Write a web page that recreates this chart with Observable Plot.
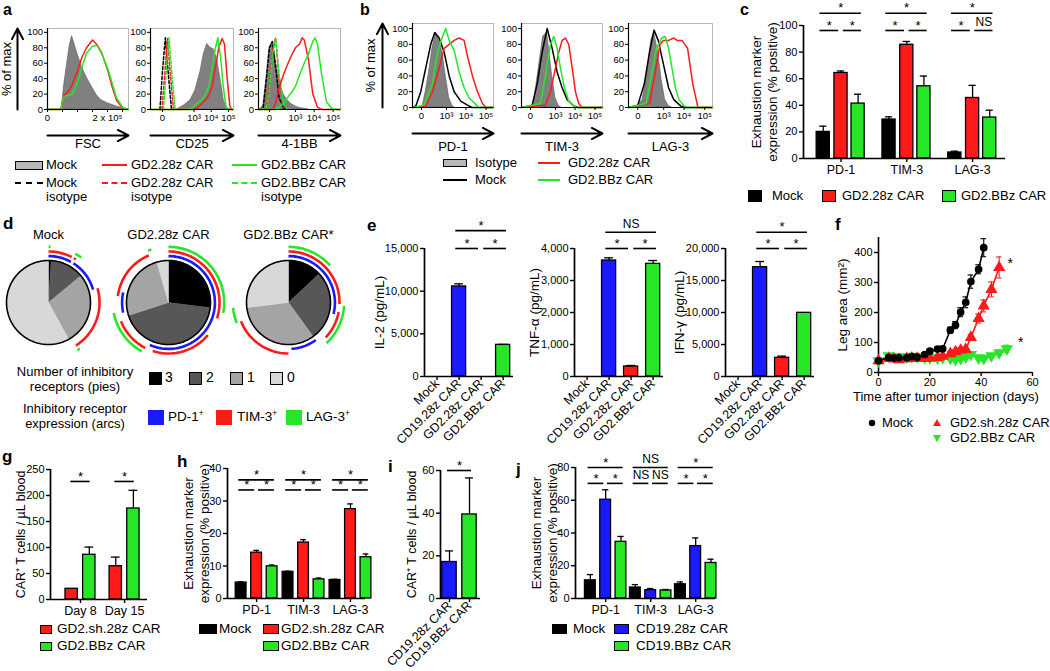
<!DOCTYPE html>
<html><head><meta charset="utf-8">
<script src="https://cdn.jsdelivr.net/npm/d3@7"></script>
<script src="https://cdn.jsdelivr.net/npm/@observablehq/plot@0.6"></script>
<style>
html,body{margin:0;padding:0;background:#fff;}
#fig{position:relative;width:1050px;height:671px;overflow:hidden;font-family:'Liberation Sans',Arial,Helvetica,sans-serif;color:#000;}
#fig svg{overflow:visible;}
.t{position:absolute;white-space:nowrap;}
.t sup{font-size:0.62em;line-height:0;vertical-align:0.55em;}
</style></head><body><div id="fig"></div>
<script>
const RED = "#ff1a1a", GREEN = "#27e627", BLUE = "#1a1aff", HGRAY = "#808080";
const FONT = "'Liberation Sans', Arial, Helvetica, sans-serif";

// ---------------- panel a : flow histograms [value, % of max]
const histYTicks = [0, 20, 40, 60, 80, 100];
const fscTicks = [0, 200000];
const fscTickLabels = ["0", "2 x 10⁵"];
const fscMinor = [50000, 100000, 150000, 250000];
const logTicks = [0, 1000, 10000, 100000];
const logTickLabels = ["0", "10³", "10⁴", "10⁵"];

const fscMock = [[0,0],[40000,0],[48000,2],[55000,30],[65000,58],[75000,85],[82000,95],[90000,85],[100000,72],[115000,55],[130000,42],[150000,28],[165000,18],[180000,12],[200000,8],[215000,6],[230000,4],[250000,2],[270000,0]];
const fsc28z = [[0,0],[45000,0],[48000,8],[55000,18],[65000,22],[75000,27],[82000,32],[90000,40],[100000,50],[115000,68],[130000,80],[150000,90],[165000,84],[180000,74],[200000,52],[215000,30],[230000,12],[250000,2],[270000,0]];
const fscBBz = [[0,0],[45000,0],[48000,8],[55000,17],[65000,18],[75000,19],[82000,20],[90000,26],[100000,35],[115000,55],[130000,73],[150000,82],[165000,83],[180000,73],[200000,54],[215000,35],[230000,15],[250000,3],[270000,0]];

const cd25Mock = [[90,0],[240,5],[610,12],[1200,25],[2400,50],[3700,72],[5800,85],[9000,80],[14000,78],[22000,65],[34000,40],[53000,12],[84000,2],[130000,0]];
const cd25_28z = [[-59,0],[970,0],[1500,2],[3700,10],[7200,18],[11300,30],[17600,55],[27000,80],[43000,92],[58000,85],[84000,40],[118000,5],[150000,0],[194000,0]];
const cd25BBz = [[-59,0],[400,0],[800,2],[1540,8],[3700,15],[7200,30],[11300,55],[17600,80],[24000,93],[34000,70],[49000,30],[70000,5],[90000,0],[194000,0]];
const cd25IsoMock = [[-6,0],[0,50],[7,93],[18,45],[35,0]];
const cd25Iso28z = [[-1,0],[6,50],[14,92],[28,45],[50,0]];
const cd25IsoBBz = [[2,0],[10,50],[21,93],[38,45],[66,0]];

const bbMock = [[-100,0],[-50,5],[-20,40],[0,80],[20,88],[50,65],[100,38],[200,20],[350,12],[600,7],[1000,4],[1700,2],[3000,1],[5000,0]];
const bbIsoMock = [[-50,3],[-20,40],[0,80],[20,88],[50,55],[100,15],[200,2],[350,0]];
const bbIso28z = [[-20,5],[0,30],[20,75],[50,93],[100,40],[200,5],[350,0]];
const bbIsoBBz = [[-20,3],[0,25],[20,70],[50,92],[100,45],[200,8],[350,0]];
const bb28z = [[-124,0],[20,0],[50,8],[100,28],[200,45],[350,58],[600,70],[1000,80],[1700,85],[2300,93],[3000,90],[5000,65],[8500,20],[15000,3],[25000,0],[244000,0]];
const bbBBz = [[-124,0],[50,0],[100,3],[200,8],[350,15],[600,22],[1000,30],[1700,45],[3000,60],[5000,72],[8500,88],[11000,93],[15000,85],[25000,45],[45000,10],[80000,2],[150000,0],[244000,0]];

// ---------------- panel b
const pd1Iso = [[7,0],[38,20],[85,45],[152,75],[251,95],[399,85],[610,70],[920,40],[1390,12],[2060,2],[2600,0]];
const pd1Mock = [[-108,0],[-55,2],[-5,20],[38,50],[115,80],[217,95],[399,88],[756,70],[1390,40],[2515,20],[5440,8],[11800,3],[20000,0],[237000,0]];
const pd1BBz = [[-108,0],[22,3],[152,30],[317,70],[610,90],[920,100],[1390,85],[2515,72],[4510,45],[8050,25],[14400,12],[30700,4],[45000,0],[237000,0]];
const pd1_28z = [[-108,0],[38,2],[152,20],[399,50],[756,75],[1390,80],[2515,85],[4510,88],[8050,85],[11800,65],[21000,40],[37500,20],[66500,5],[100000,0],[237000,0]];
const tim3Iso = [[0,0],[28,5],[96,50],[198,90],[349,95],[666,40],[1002,12],[1494,2],[2000,0]];
const tim3Mock = [[-108,0],[13,3],[70,30],[170,70],[349,100],[666,75],[1230,45],[2230,25],[4020,10],[8650,2],[14000,0],[237000,0]];
const tim3BBz = [[-108,0],[129,5],[276,40],[538,80],[814,90],[1230,75],[1827,50],[2930,25],[4840,8],[8650,2],[12000,0],[237000,0]];
const tim3_28z = [[-108,0],[276,3],[538,20],[1002,50],[1494,70],[2230,85],[3290,88],[4840,80],[7200,50],[10500,20],[15400,5],[22000,0],[237000,0]];
const lag3Iso = [[-20,0],[0,2],[43,10],[123,50],[207,85],[304,95],[517,70],[785,35],[1175,10],[1764,2],[2500,0]];
const lag3Mock = [[-108,0],[0,3],[64,30],[160,70],[304,98],[517,85],[966,55],[1764,25],[3180,10],[6850,2],[10000,0],[237000,0]];
const lag3BBz = [[-108,0],[90,5],[207,40],[415,75],[785,88],[1175,90],[1764,75],[2600,50],[3830,25],[5690,10],[10200,2],[14000,0],[237000,0]];
const lag3_28z = [[-108,0],[160,5],[331,40],[636,80],[966,85],[1764,85],[3180,88],[4670,85],[8000,85],[14900,75],[26500,30],[47100,0],[237000,0]];

// ---------------- panel c
const cGroups = ["PD-1", "TIM-3", "LAG-3"];
const cMock = [20, 29.3, 4.5], cMockErr = [24.3, 31.3, 5.5];
const c28z = [64.3, 85.5, 45.5], c28zErr = [65.8, 88, 55];
const cBBz = [41.3, 54.3, 30.8], cBBzErr = [48.3, 62, 36.3];
const cSigLabels = [["*","*","*"],["*","*","*"],["*","*","NS"]]; // top, left, right

// ---------------- panel d
const pieNames = ["Mock", "GD2.28z CAR", "GD2.BBz CAR"];
const pieTitles = ["Mock", "GD2.28z CAR", "GD2.BBz CAR*"];
const pieShares = {            // fraction of cells with 3, 2, 1, 0 inhibitory receptors
  "Mock": [0.01, 0.13, 0.28, 0.58],
  "GD2.28z CAR": [0.27, 0.43, 0.255, 0.045],
  "GD2.BBz CAR": [0.13, 0.27, 0.33, 0.27]
};
const pieShades = ["#000000", "#575757", "#a4a4a4", "#d8d8d8"];
const pieLegend = ["3", "2", "1", "0"];
const arcs = [ // [pie, receptor, ring, start, end]
  ["Mock","PD-1",1,0,0.08],["Mock","PD-1",1,0.09,0.205],["Mock","TIM-3",2,0,0.075],["Mock","TIM-3",2,0.083,0.09],
  ["Mock","TIM-3",2,0.205,0.41],["Mock","LAG-3",3,0,0.006],["Mock","LAG-3",3,0.08,0.1],["Mock","LAG-3",3,0.405,0.413],
  ["GD2.28z CAR","PD-1",1,0,0.566],["GD2.28z CAR","PD-1",1,0.715,0.785],
  ["GD2.28z CAR","TIM-3",2,0,0.3],["GD2.28z CAR","TIM-3",2,0.36,0.55],["GD2.28z CAR","TIM-3",2,0.575,0.69],["GD2.28z CAR","TIM-3",2,0.77,0.937],
  ["GD2.28z CAR","LAG-3",3,0,0.28],["GD2.28z CAR","LAG-3",3,0.58,0.72],["GD2.28z CAR","LAG-3",3,0.94,0.95],
  ["GD2.BBz CAR","PD-1",1,0,0.29],["GD2.BBz CAR","PD-1",1,0.4,0.49],
  ["GD2.BBz CAR","TIM-3",2,0,0.255],["GD2.BBz CAR","TIM-3",2,0.28,0.37],["GD2.BBz CAR","TIM-3",2,0.5,0.69],
  ["GD2.BBz CAR","LAG-3",3,0,0.134],["GD2.BBz CAR","LAG-3",3,0.26,0.38],["GD2.BBz CAR","LAG-3",3,0.69,0.735]
];
const ringRadius = [0, 1.105, 1.215, 1.325];
const receptors = ["PD-1", "TIM-3", "LAG-3"];
const receptorColors = [BLUE, RED, GREEN];

// ---------------- panel e
const eCats = ["Mock", "CD19.28z CAR", "GD2.28z CAR", "GD2.BBz CAR"];
const eColors = ["#000", BLUE, RED, GREEN];
const il2 = [0, 10550, 0, 3710], il2Err = [null, 10860, null, 3760];
const tnf = [0, 3625, 312, 3520], tnfErr = [null, 3708, 344, 3625];
const ifn = [0, 17080, 2920, 9950], ifnErr = [null, 17970, 3180, null];

// ---------------- panel f
const fDays = [0,4,6,8,11,13,15,18,20,23,25,28,30,32,34,36,39,41,44,47,50];
const fMock = [39,50,48,49,49,53,51,60,71,78,79,141,158,201,234,303,344,416];
const fMockErr = [4,5,5,5,5,6,5,6,7,7,8,10,12,15,18,22,15,30];
const fSh28 = [39,47,45,43,46,48,47,47,48,50,54,63,69,74,77,117,180,222,277,350];
const fSh28Err = [4,5,5,5,5,5,5,5,5,5,6,7,7,8,8,10,15,20,25,35];
const fBBz = [39,56,53,52,52,54,52,50,49,48,50,47,44,47,52,60,49,47,56,66,79];
const fBBzErr = [4,6,5,5,5,5,5,5,5,5,5,5,5,5,6,7,6,5,6,8,12];

// ---------------- panel g
const gGroups = ["Day 8", "Day 15"];
const gSh28 = [20.6, 64], gSh28Err = [null, 81.5];
const gBBz = [86, 175], gBBzErr = [100.8, 210];

// ---------------- panel h
const hGroups = ["PD-1", "TIM-3", "LAG-3"];
const hMock = [4.9, 8.2, 5.7], hMockErr = [5.1, 8.4, 5.9];
const hSh28 = [14.1, 17.2, 27.5], hSh28Err = [14.8, 18.1, 29.1];
const hBBz = [9.9, 5.9, 12.7], hBBzErr = [10.3, 6.3, 13.7];

// ---------------- panel i
const iCats = ["CD19.28z CAR", "CD19.BBz CAR"];
const iVals = [17.1, 39.4], iErr = [22.3, 56.5];

// ---------------- panel j
const jGroups = ["PD-1", "TIM-3", "LAG-3"];
const jMock = [11.1, 6.7, 8.7], jMockErr = [14.6, 8.5, 10.1];
const j28z = [60.3, 5.1, 32], j28zErr = [66.4, 6.1, 37];
const jBBz = [34.6, 4.9, 21.7], jBBzErr = [37.9, 5.5, 24];
const jSigLabels = [["*","*","*"],["NS","NS","NS"],["*","*","*"]];

// ======================================================================
const fig = document.getElementById("fig");
const STYLE = {fontFamily: FONT, fontSize: "11px", overflow: "visible", background: "transparent", maxWidth: "none"};
function mount(svg, left, top) {
  const d = document.createElement("div");
  d.style.cssText = `position:absolute;left:${left}px;top:${top}px;`;
  d.appendChild(svg); fig.appendChild(d);
}
function txt(html, x, y, o = {}) {
  const d = document.createElement("div");
  d.className = "t"; d.innerHTML = html;
  const tx = o.align === "center" ? "-50%" : o.align === "right" ? "-100%" : "0";
  d.style.cssText = `left:${x}px;top:${y}px;font-size:${o.size || 13}px;line-height:${o.lh || 1.1};font-weight:${o.bold ? "bold" : "normal"};text-align:${o.align || "left"};transform:translate(${tx},-50%);`;
  fig.appendChild(d);
}
function box(x, y, w, h, color, border = true) {
  const d = document.createElement("div");
  d.style.cssText = `position:absolute;left:${x}px;top:${y - h / 2}px;width:${w}px;height:${h}px;background:${color};box-sizing:border-box;${border ? "border:1.4px solid #000;" : ""}`;
  fig.appendChild(d);
}
function hline(x, y, w, color, dashed) {
  const d = document.createElement("div");
  d.style.cssText = `position:absolute;left:${x}px;top:${y - 1}px;width:${w}px;height:0;border-top:2px ${dashed ? "dashed" : "solid"} ${color};`;
  fig.appendChild(d);
}

// ---------------- histogram helper
function histo(o) {
  const mt = 4, mr = 6, mb = 52;
  const W = o.right - o.left, H = o.bottom - o.top;
  const [lo, hi] = o.x.domain;
  const marks = [Plot.frame({stroke: "#b8b8b8"})];
  for (const s of o.series) {
    if (s.area) marks.push(Plot.areaY(s.data, {x: d => d[0], y: d => d[1], fill: HGRAY, stroke: "#5a5a5a", strokeWidth: 0.6}));
    else marks.push(Plot.lineY(s.data, {x: d => d[0], y: d => d[1], stroke: s.color, strokeWidth: 1.5, strokeDasharray: s.dash ? "3,2" : undefined}));
  }
  marks.push(
    Plot.ruleX([lo], {stroke: "#000", strokeWidth: 1.2}),
    Plot.ruleY([0], {stroke: "#000", strokeWidth: 1.2}),
    Plot.axisY({ticks: histYTicks, tickSize: 3, tickPadding: 1.5, fontSize: 9.5, label: null}),
    Plot.axisX({ticks: o.ticks, tickFormat: d => o.labels[o.ticks.indexOf(d)], tickSize: 3, tickPadding: 2, fontSize: 9.5, label: null}),
    Plot.arrow([0], {x1: () => lo, x2: () => hi, y1: () => 0, y2: () => 0, dy: o.arrowDy, stroke: "#000", strokeWidth: 2, headLength: 9, headAngle: 55}),
    Plot.text([o.label], {text: d => d, frameAnchor: "bottom", dy: o.labelDy, fontSize: 13})
  );
  if (o.minor) marks.push(Plot.axisX({ticks: o.minor, tickFormat: () => "", tickSize: 3, label: null}));
  if (o.yArrow) marks.push(
    Plot.arrow([0], {x1: () => lo, x2: () => lo, y1: () => 0, y2: () => o.ymax, dx: -30, stroke: "#000", strokeWidth: 2, headLength: 9, headAngle: 55}),
    Plot.text(["% of max"], {text: d => d, frameAnchor: "left", textAnchor: "middle", rotate: -90, dx: o.yLabelDx, fontSize: 13})
  );
  const svg = Plot.plot({
    width: W + o.ml + mr, height: H + mt + mb,
    marginLeft: o.ml, marginRight: mr, marginTop: mt, marginBottom: mb,
    x: o.x, y: {domain: [0, o.ymax]}, style: STYLE, marks
  });
  mount(svg, o.left - o.ml, o.top - mt);
}

// panel a
const aY = {top: 28, bottom: 109, ymax: 105, arrowDy: 26, labelDy: 38};
histo({...aY, left: 47, right: 128, ml: 47, yArrow: true, yLabelDx: -41,
  x: {type: "linear", domain: [0, 270000]}, ticks: fscTicks, labels: fscTickLabels, minor: fscMinor, label: "FSC",
  series: [{data: fscMock, area: true}, {data: fsc28z, color: RED}, {data: fscBBz, color: GREEN}]});
histo({...aY, left: 150, right: 233, ml: 26,
  x: {type: "symlog", constant: 15, domain: [-59, 194000]}, ticks: logTicks, labels: logTickLabels, label: "CD25",
  series: [{data: cd25Mock, area: true}, {data: cd25IsoMock, color: "#000", dash: true}, {data: cd25Iso28z, color: RED, dash: true},
           {data: cd25IsoBBz, color: GREEN, dash: true}, {data: cd25_28z, color: RED}, {data: cd25BBz, color: GREEN}]});
histo({...aY, left: 258, right: 340, ml: 26,
  x: {type: "symlog", constant: 45, domain: [-124, 244000]}, ticks: logTicks, labels: logTickLabels, label: "4-1BB",
  series: [{data: bbMock, area: true}, {data: bbIsoMock, color: "#000", dash: true}, {data: bbIso28z, color: RED, dash: true},
           {data: bbIsoBBz, color: GREEN, dash: true}, {data: bb28z, color: RED}, {data: bbBBz, color: GREEN}]});

// panel b
const bY = {top: 23, bottom: 107, ymax: 106.4, arrowDy: 26, labelDy: 43};
const bX = {type: "symlog", constant: 60, domain: [-108, 237000]};
histo({...bY, left: 412, right: 493, ml: 50, yArrow: true, yLabelDx: -42, x: bX, ticks: logTicks, labels: logTickLabels, label: "PD-1",
  series: [{data: pd1Iso, area: true}, {data: pd1Mock, color: "#000"}, {data: pd1_28z, color: RED}, {data: pd1BBz, color: GREEN}]});
histo({...bY, left: 521, right: 602, ml: 26, x: bX, ticks: logTicks, labels: logTickLabels, label: "TIM-3",
  series: [{data: tim3Iso, area: true}, {data: tim3Mock, color: "#000"}, {data: tim3_28z, color: RED}, {data: tim3BBz, color: GREEN}]});
histo({...bY, left: 628, right: 712, ml: 26, x: bX, ticks: logTicks, labels: logTickLabels, label: "LAG-3",
  series: [{data: lag3Iso, area: true}, {data: lag3Mock, color: "#000"}, {data: lag3_28z, color: RED}, {data: lag3BBz, color: GREEN}]});

// ---------------- bar chart helper
function barPlot(o) {
  const W = o.px.right - o.px.left, H = o.px.bottom - o.px.top;
  const rows = [];
  o.series.forEach(s => s.vals.forEach((v, gi) => rows.push({xc: gi + s.off, v, e: s.errs ? s.errs[gi] : null,
    fill: Array.isArray(s.color) ? s.color[gi] : s.color})));
  const er = rows.filter(r => r.e != null);
  const pos = ([g, si]) => g + o.series[si].off;
  const sig = (o.sig || []).map(s => {
    let x1 = pos(s.a) - o.ext, x2 = pos(s.b) + o.ext;
    if (s.trim === "r") x2 = pos(s.b) - o.gap;
    if (s.trim === "l") x1 = pos(s.a) + o.gap;
    return {x1, x2, y: s.y, label: s.label};
  });
  const marks = [
    Plot.rect(rows, {x1: d => d.xc - o.hw, x2: d => d.xc + o.hw, y1: () => 0, y2: d => d.v, fill: d => d.fill, stroke: "#000", strokeWidth: 1.3}),
    Plot.ruleX(er, {x: d => d.xc, y1: d => d.v, y2: d => d.e, strokeWidth: 1.3}),
    Plot.ruleY(er, {y: d => d.e, x1: d => d.xc - o.cap, x2: d => d.xc + o.cap, strokeWidth: 1.3}),
    Plot.ruleX([o.xDomain[0]], {y1: () => 0, y2: () => o.yDomain[1], strokeWidth: 1.7}),
    Plot.ruleY([0], {strokeWidth: 1.7}),
    Plot.axisY({ticks: o.yTicks, tickFormat: o.yFmt, tickSize: 4, tickPadding: 2, fontSize: o.yFont || 11, strokeWidth: 1.4, label: null}),
    Plot.axisX({ticks: o.groups.map((_, i) => i), tickFormat: d => o.groups[d], tickSize: 4, tickPadding: o.rotate ? 1 : 3,
      fontSize: o.xFont || 12.5, tickRotate: o.rotate || 0, strokeWidth: 1.4, label: null}),
    Plot.ruleY(sig, {y: d => d.y, x1: d => d.x1, x2: d => d.x2, strokeWidth: 1.6}),
    Plot.text(sig.filter(d => d.label === "*"), {x: d => (d.x1 + d.x2) / 2, y: d => d.y, text: d => d.label, dy: -5, fontSize: 13}),
    Plot.text(sig.filter(d => d.label !== "*"), {x: d => (d.x1 + d.x2) / 2, y: d => d.y, text: d => d.label, dy: -8, fontSize: 12})
  ];
  if (o.ylabel) marks.push(Plot.text([o.ylabel], {text: d => d, frameAnchor: "left", textAnchor: "middle", rotate: -90, dx: o.ylabelDx, fontSize: o.ylabelSize || 13.5, lineHeight: 1.2}));
  const svg = Plot.plot({
    width: W + o.ml + o.mr, height: H + o.mt + o.mb,
    marginLeft: o.ml, marginRight: o.mr, marginTop: o.mt, marginBottom: o.mb,
    x: {domain: o.xDomain}, y: {domain: o.yDomain}, color: {type: "identity"}, style: STYLE, marks
  });
  mount(svg, o.px.left - o.ml, o.px.top - o.mt);
}
function groupSig(labels, top, low) {
  const out = [];
  labels.forEach((l, g) => {
    out.push({a: [g, 0], b: [g, 2], y: top, label: l[0]});
    out.push({a: [g, 0], b: [g, 1], y: low, label: l[1], trim: "r"});
    out.push({a: [g, 1], b: [g, 2], y: low, label: l[2], trim: "l"});
  });
  return out;
}
const EXH = "Exhaustion marker\nexpression (% positive)";
const CART = "CAR⁺ T cells / µL blood";

// panel c
barPlot({groups: cGroups, series: [{color: "#000", vals: cMock, errs: cMockErr, off: -0.27}, {color: RED, vals: c28z, errs: c28zErr, off: 0}, {color: GREEN, vals: cBBz, errs: cBBzErr, off: 0.26}],
  hw: 0.1, cap: 0.055, ext: 0.05, gap: 0.035, xDomain: [-0.57, 2.5], yDomain: [0, 100], yTicks: [0, 20, 40, 60, 80, 100],
  px: {left: 803, right: 1005, top: 25, bottom: 158}, ml: 60, mr: 8, mt: 26, mb: 24,
  sig: groupSig(cSigLabels, 109.25, 96.25), ylabel: EXH, ylabelDx: -40});

// panel e
const eBase = {groups: eCats, hw: 0.32, cap: 0.2, ext: 0.15, gap: 0.12, xDomain: [-0.57, 3.47], rotate: -45, xFont: 12.5,
  ml: 58, mr: 4, mt: 30, mb: 85, yFmt: d3.format(",")};
const eSig = (l, top, low) => [{a: [1, 0], b: [3, 0], y: top, label: l[0]}, {a: [1, 0], b: [2, 0], y: low, label: l[1], trim: "r"}, {a: [2, 0], b: [3, 0], y: low, label: l[2], trim: "l"}];
barPlot({...eBase, series: [{color: eColors, vals: il2, errs: il2Err, off: 0}], yDomain: [0, 15000], yTicks: [0, 5000, 10000, 15000],
  px: {left: 424, right: 513, top: 248, bottom: 376}, sig: eSig(["*", "*", "*"], 17100, 15000), ylabel: "IL-2 (pg/mL)", ylabelDx: -46});
barPlot({...eBase, series: [{color: eColors, vals: tnf, errs: tnfErr, off: 0}], yDomain: [0, 4000], yTicks: [0, 1000, 2000, 3000, 4000],
  px: {left: 574, right: 663, top: 248, bottom: 376}, sig: eSig(["NS", "*", "*"], 4510, 4000), ylabel: "TNF-α (pg/mL)", ylabelDx: -41});
barPlot({...eBase, series: [{color: eColors, vals: ifn, errs: ifnErr, off: 0}], yDomain: [0, 20000], yTicks: [0, 5000, 10000, 15000, 20000],
  px: {left: 725, right: 814, top: 248, bottom: 376}, sig: eSig(["*", "*", "*"], 22550, 20000), ylabel: "IFN-γ (pg/mL)", ylabelDx: -47});

// panel g
barPlot({groups: gGroups, series: [{color: RED, vals: gSh28, errs: gSh28Err, off: -0.2}, {color: GREEN, vals: gBBz, errs: gBBzErr, off: 0.2}],
  hw: 0.14, cap: 0.1, ext: 0.02, gap: 0, xDomain: [-0.68, 1.52], yDomain: [0, 250], yTicks: [0, 50, 100, 150, 200, 250],
  px: {left: 50, right: 147, top: 469, bottom: 599}, ml: 44, mr: 4, mt: 18, mb: 22,
  sig: [{a: [0, 0], b: [0, 1], y: 227, label: "*"}, {a: [1, 0], b: [1, 1], y: 227, label: "*"}], ylabel: CART, ylabelDx: -30, ylabelSize: 12.5});

// panel h
barPlot({groups: hGroups, series: [{color: "#000", vals: hMock, errs: hMockErr, off: -0.33}, {color: RED, vals: hSh28, errs: hSh28Err, off: 0}, {color: GREEN, vals: hBBz, errs: hBBzErr, off: 0.33}],
  hw: 0.115, cap: 0.06, ext: 0.05, gap: 0.04, xDomain: [-0.62, 2.32], yDomain: [0, 40], yTicks: [0, 10, 20, 30, 40],
  px: {left: 227, right: 365, top: 468, bottom: 598}, ml: 50, mr: 4, mt: 20, mb: 22,
  sig: groupSig([["*","*","*"],["*","*","*"],["*","*","*"]], 36.5, 33.4), ylabel: EXH, ylabelDx: -32});

// panel i
barPlot({groups: iCats, series: [{color: [BLUE, GREEN], vals: iVals, errs: iErr, off: 0}],
  hw: 0.36, cap: 0.2, ext: 0.1, gap: 0, xDomain: [-0.45, 1.55], yDomain: [0, 60], yTicks: [0, 20, 40, 60], rotate: -45,
  px: {left: 440, right: 480, top: 470, bottom: 598}, ml: 40, mr: 4, mt: 18, mb: 80,
  sig: [{a: [0, 0], b: [1, 0], y: 60, label: "*"}], ylabel: CART, ylabelDx: -29, ylabelSize: 12.5});

// panel j
barPlot({groups: jGroups, series: [{color: "#000", vals: jMock, errs: jMockErr, off: -0.34}, {color: BLUE, vals: j28z, errs: j28zErr, off: 0}, {color: GREEN, vals: jBBz, errs: jBBzErr, off: 0.34}],
  hw: 0.12, cap: 0.07, ext: 0.05, gap: 0.04, xDomain: [-0.67, 2.44], yDomain: [0, 80], yTicks: [0, 20, 40, 60, 80],
  px: {left: 575, right: 715, top: 467, bottom: 598}, ml: 48, mr: 4, mt: 20, mb: 22,
  sig: groupSig(jSigLabels, 80, 70.3), ylabel: EXH, ylabelDx: -31.5});

// ---------------- panel d : pies with arcs
(function () {
  const wedges = [], outline = [], arcPts = [];
  for (const p of pieNames) {
    let start = 0;
    pieShares[p].forEach((f, k) => {
      const end = start + f, n = Math.max(2, Math.ceil(f * 160)), id = p + k;
      wedges.push({pie: p, k, id, x: 0, y: 0});
      for (let j = 0; j <= n; j++) { const t = 2 * Math.PI * (start + (end - start) * j / n); wedges.push({pie: p, k, id, x: Math.sin(t), y: Math.cos(t)}); }
      wedges.push({pie: p, k, id, x: 0, y: 0});
      start = end;
    });
    for (let j = 0; j <= 160; j++) { const t = 2 * Math.PI * j / 160; outline.push({pie: p, x: Math.sin(t), y: Math.cos(t)}); }
  }
  arcs.forEach(([p, rec, ring, a0, a1], i) => {
    const r = ringRadius[ring], n = Math.max(2, Math.ceil((a1 - a0) * 160));
    for (let j = 0; j <= n; j++) { const t = 2 * Math.PI * (a0 + (a1 - a0) * j / n); arcPts.push({pie: p, rec, id: i, x: r * Math.sin(t), y: r * Math.cos(t)}); }
  });
  const lim = 60 / 42;
  const marks = [];
  pieShades.forEach((c, k) => marks.push(Plot.line(wedges.filter(w => w.k === k), {x: "x", y: "y", z: "id", fx: "pie", fill: c, stroke: c, strokeWidth: 0.4})));
  marks.push(Plot.line(outline, {x: "x", y: "y", z: "pie", fx: "pie", stroke: "#000", strokeWidth: 1.6}));
  receptors.forEach((rec, i) => marks.push(Plot.line(arcPts.filter(a => a.rec === rec), {x: "x", y: "y", z: "id", fx: "pie", stroke: receptorColors[i], strokeWidth: 2.6, strokeLinecap: "butt"})));
  marks.push(Plot.axisFx({anchor: "top", tickSize: 0, tickPadding: 4, fontSize: 13, tickFormat: d => pieTitles[pieNames.indexOf(d)], label: null}));
  const svg = Plot.plot({width: 360, height: 142, marginLeft: 0, marginRight: 0, marginTop: 22, marginBottom: 0,
    x: {domain: [-lim, lim], axis: null}, y: {domain: [-lim, lim], axis: null}, fx: {domain: pieNames, padding: 0, label: null},
    style: STYLE, marks});
  mount(svg, -12, 220);
})();

// ---------------- panel f : tumour growth
(function () {
  const specs = [
    {vals: fBBz, errs: fBBzErr, color: GREEN, symbol: "triangle", rotate: 180, r: 3.6},
    {vals: fSh28, errs: fSh28Err, color: RED, symbol: "triangle", rotate: 0, r: 3.6},
    {vals: fMock, errs: fMockErr, color: "#000", symbol: "circle", rotate: 0, r: 3.1}
  ];
  const marks = [
    Plot.ruleX([0], {y1: () => 0, y2: () => 450, strokeWidth: 1.6}),
    Plot.ruleY([0], {strokeWidth: 1.6}),
    Plot.axisY({ticks: [0, 100, 200, 300, 400], tickSize: 4, tickPadding: 2, fontSize: 11, strokeWidth: 1.4, label: null}),
    Plot.axisX({ticks: [0, 20, 40, 60], tickSize: 4, tickPadding: 2, fontSize: 11, strokeWidth: 1.4, label: null})
  ];
  for (const s of specs) {
    const rows = s.vals.map((v, i) => ({day: fDays[i], v, e: s.errs[i]}));
    marks.push(
      Plot.ruleX(rows, {x: "day", y1: d => d.v - d.e, y2: d => d.v + d.e, stroke: s.color, strokeWidth: 1.1}),
      Plot.ruleY(rows, {y: d => d.v + d.e, x1: d => d.day - 1.1, x2: d => d.day + 1.1, stroke: s.color, strokeWidth: 1.1}),
      Plot.ruleY(rows, {y: d => d.v - d.e, x1: d => d.day - 1.1, x2: d => d.day + 1.1, stroke: s.color, strokeWidth: 1.1}),
      Plot.line(rows, {x: "day", y: "v", stroke: s.color, strokeWidth: 1.6}),
      Plot.dot(rows, {x: "day", y: "v", symbol: s.symbol, r: s.r, fill: s.color, stroke: s.color, rotate: s.rotate})
    );
  }
  const ends = [{day: fDays[fSh28.length - 1], v: fSh28[fSh28.length - 1]}, {day: fDays[fBBz.length - 1], v: fBBz[fBBz.length - 1]}];
  marks.push(Plot.text(ends.slice(0, 1), {x: "day", y: "v", text: () => "*", dx: 11, dy: -4, fontSize: 14}));
  marks.push(Plot.text(ends.slice(1), {x: "day", y: "v", text: () => "*", dx: 14, dy: -6, fontSize: 14}));
  marks.push(Plot.text(["Leg area (mm²)"], {text: d => d, frameAnchor: "left", textAnchor: "middle", rotate: -90, dx: -36, fontSize: 13.5}));
  const svg = Plot.plot({width: 212, height: 171, marginLeft: 40, marginRight: 18, marginTop: 6, marginBottom: 30,
    x: {domain: [0, 60]}, y: {domain: [0, 450]}, style: STYLE, marks});
  mount(svg, 838, 231.3);
})();

// ---------------- legends & labels (HTML)
// a
box(15, 165, 28, 9, "#b8b8b8"); txt("Mock", 46, 165);
hline(15, 183, 28, "#000", true); txt("Mock", 46, 183); txt("isotype", 46, 197);
hline(102, 165, 25, RED); txt("GD2.28z CAR", 131, 165);
hline(102, 183, 25, RED, true); txt("GD2.28z CAR", 131, 183); txt("isotype", 131, 197);
hline(232, 165, 25, GREEN); txt("GD2.BBz CAR", 261, 165);
hline(232, 183, 25, GREEN, true); txt("GD2.BBz CAR", 261, 183); txt("isotype", 261, 197);
// b
box(443, 163, 24, 8, "#b8b8b8"); txt("Isotype", 475, 163);
hline(443, 180, 24, "#000"); txt("Mock", 475, 180);
hline(538, 163, 22, RED); txt("GD2.28z CAR", 568, 163);
hline(538, 180, 22, GREEN); txt("GD2.BBz CAR", 568, 180);
// c
box(748, 196, 14, 12, "#000"); txt("Mock", 772, 196, {size: 13});
box(822, 196, 14, 12, RED); txt("GD2.28z CAR", 842, 196, {size: 13});
box(942, 196, 14, 12, GREEN); txt("GD2.BBz CAR", 961, 196, {size: 13});
// d
txt("Number of inhibitory<br>receptors (pies)", 75, 380, {align: "center", lh: 1.15});
const dBoxX = [149, 189, 230, 270], dLblX = [165, 206, 247, 287];
pieShades.forEach((c, k) => { box(dBoxX[k], 378, 13, 13, c); txt(pieLegend[k], dLblX[k], 378, {size: 14}); });
txt("Inhibitory receptor<br>expression (arcs)", 75, 417, {align: "center", lh: 1.15});
const rBoxX = [148, 216, 286], rLblX = [168, 237, 306];
receptors.forEach((r, i) => { box(rBoxX[i], 417, 16, 15, receptorColors[i], false); txt(r + "<sup>+</sup>", rLblX[i], 417, {size: 13.5}); });
// f
(function () {
  const s = document.createElementNS("http://www.w3.org/2000/svg", "svg");
  s.setAttribute("width", 1050); s.setAttribute("height", 671);
  s.style.cssText = "position:absolute;left:0;top:0;pointer-events:none;overflow:visible;";
  s.innerHTML = `<circle cx="872" cy="423" r="3.2" fill="#000"/>
    <path d="M937,419 L941,426 L933,426 Z" fill="${RED}"/>
    <path d="M937,442 L941,435 L933,435 Z" fill="${GREEN}"/>`;
  fig.appendChild(s);
})();
txt("Mock", 882, 423); txt("GD2.sh.28z CAR", 950, 423); txt("GD2.BBz CAR", 950, 438);
txt("Time after tumor injection (days)", 853, 397, {size: 13});
// g
box(40, 629, 12, 9, RED); txt("GD2.sh.28z CAR", 57, 629, {size: 13.5});
box(40, 646, 12, 9, GREEN); txt("GD2.BBz CAR", 57, 646, {size: 13.5});
// h
box(199, 629, 18, 10, "#000"); txt("Mock", 219, 629, {size: 13.5});
box(263, 629, 16, 10, RED); txt("GD2.sh.28z CAR", 281, 629, {size: 13.5});
box(263, 646, 16, 10, GREEN); txt("GD2.BBz CAR", 281, 646, {size: 13.5});
// j
box(552, 629, 15, 10, "#000"); txt("Mock", 573, 629, {size: 13.5});
box(614, 629, 15, 10, BLUE); txt("CD19.28z CAR", 636, 629, {size: 13.5});
box(614, 646, 15, 10, GREEN); txt("CD19.BBz CAR", 636, 646, {size: 13.5});
// panel letters
[["a", 3, 9.5, 16], ["b", 360, 9.5, 16], ["c", 740, 9.5, 16], ["d", 3, 224, 17], ["e", 367, 226, 17], ["f", 835, 225, 17], ["g", 2, 457, 17], ["h", 177, 462, 17], ["i", 388, 467, 17], ["j", 516, 470, 17]]
  .forEach(([l, x, y, s]) => txt(l, x, y, {size: s, bold: true, lh: 0.6}));
</script></body></html>
